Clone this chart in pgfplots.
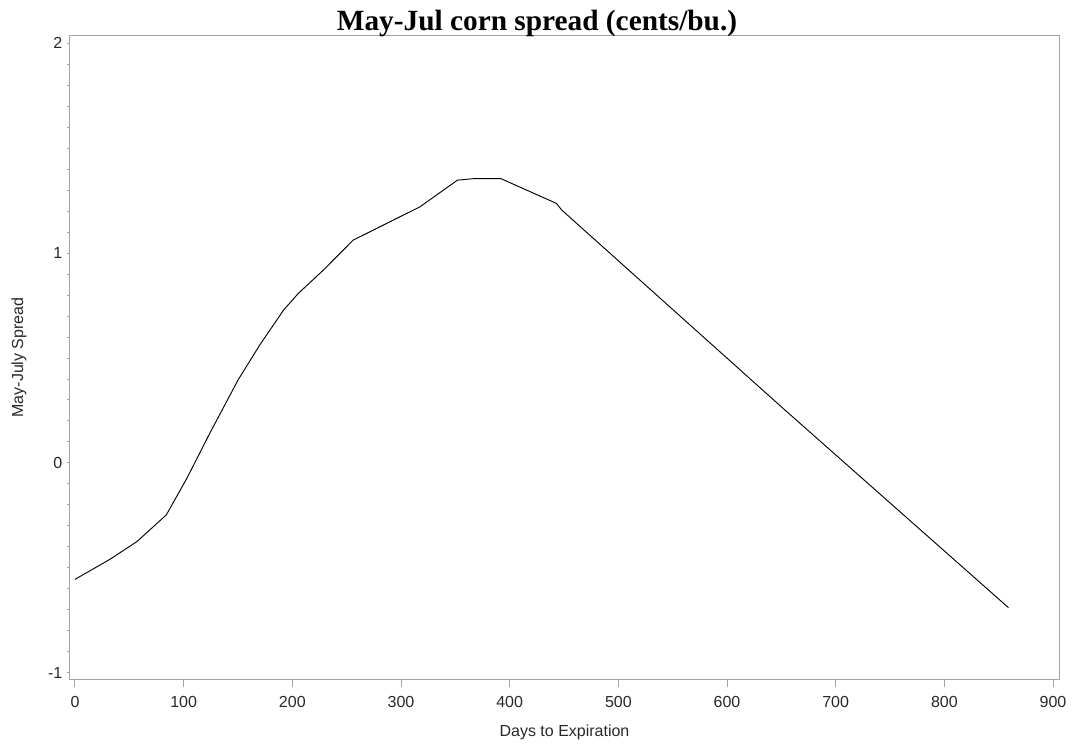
\documentclass[border=0pt]{standalone}
\usepackage{fontspec}
\setmainfont{Liberation Sans}
\newfontfamily\titlefont{Liberation Serif}
\usepackage{pgfplots}
\pgfplotsset{compat=1.18}
\definecolor{axgray}{RGB}{160,164,168}
\definecolor{txt}{RGB}{40,40,40}
\begin{document}
\begin{tikzpicture}
\begin{axis}[
  scale only axis, width=741.75pt, height=482.25pt,
  xmin=-4.6, xmax=905.5, ymin=-1.03, ymax=2.035,
  xtick={0,100,...,900}, ytick={-1,0,1,2}, minor y tick num=9,
  tick pos=left, tick align=outside,
  axis line style={axgray, line width=0.75pt},
  every tick/.style={axgray, line width=0.75pt},
  major tick length=2.25pt, minor tick length=2.25pt,
  xtick style={/pgfplots/major tick length=6pt},
  /pgf/number format/assume math mode=true,
  ticklabel style={font=\fontsize{12}{14}\selectfont, text=txt},
  yticklabel style={anchor=east},
  xticklabel style={anchor=base, yshift=-19pt},
  xlabel={Days to Expiration},
  xlabel style={at={(axis description cs:0.5,-0.0897)}, anchor=base, font=\fontsize{12}{14}\selectfont, text=txt},
  ylabel={May-July Spread},
  ylabel style={at={(axis description cs:-0.0475,0.5)}, anchor=base, font=\fontsize{12}{14}\selectfont, text=txt},
]
\addplot[black, line width=0.7pt] coordinates {
(0,-0.555) (32,-0.46) (57,-0.375) (84,-0.248) (103,-0.073) (124,0.141)
(150,0.395) (170,0.562) (192,0.729) (205.5,0.808) (228.5,0.919) (256,1.062)
(317.5,1.221) (352,1.348) (367,1.355) (392,1.355) (443,1.237) (448,1.205)
(649,0.272) (859,-0.69)
};
\end{axis}
\node[font=\titlefont\bfseries\fontsize{22}{26}\selectfont, anchor=base] at (350.25pt,486.2pt) {May-Jul corn spread (cents/bu.)};
\pgfresetboundingbox
\useasboundingbox (-52.5pt,-48.75pt) rectangle (753pt,509.25pt);
\end{tikzpicture}
\end{document}
